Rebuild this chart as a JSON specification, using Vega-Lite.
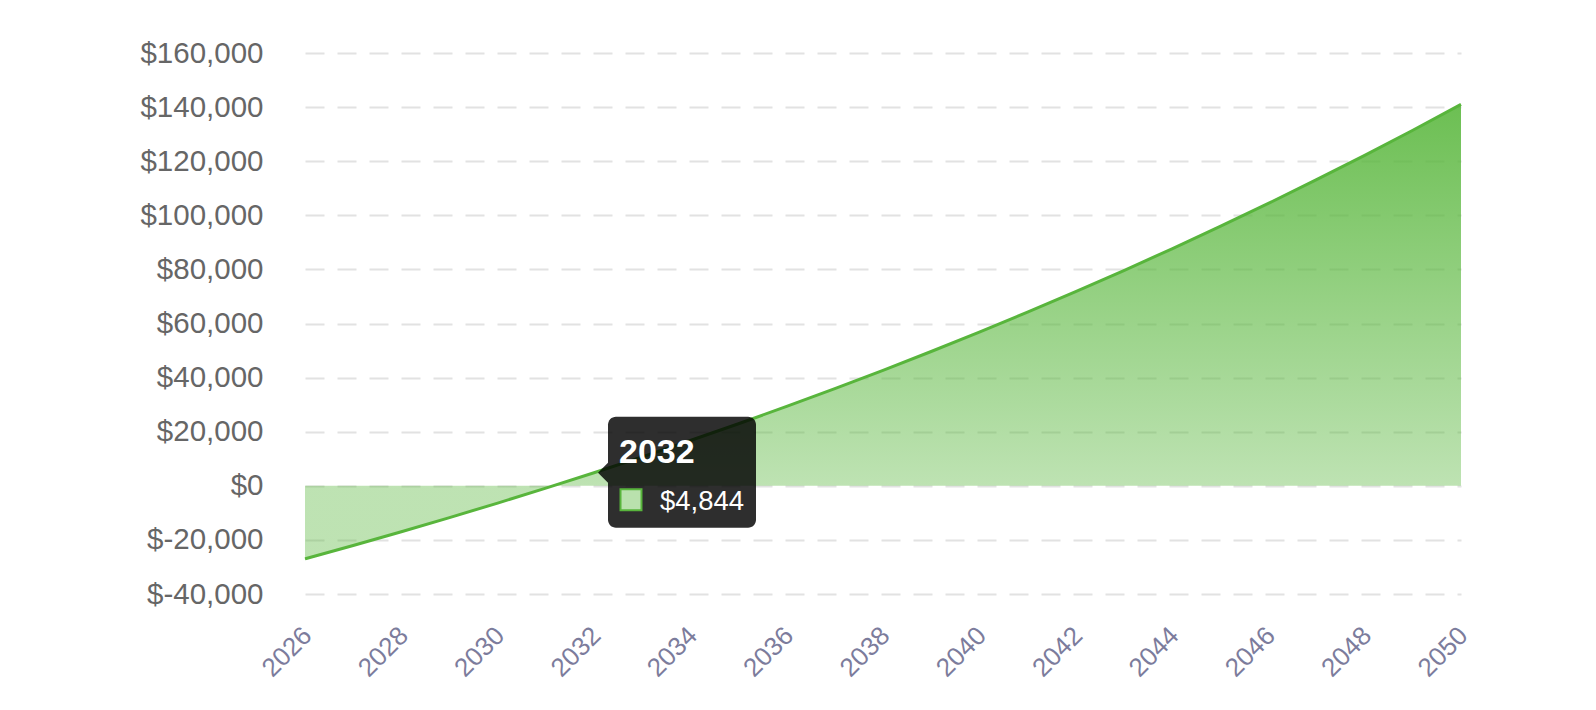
{
  "$schema": "https://vega.github.io/schema/vega-lite/v6.json",
  "width": 1156,
  "height": 541,
  "autosize": {"type": "none"},
  "padding": {"left": 305, "top": 53, "right": 135, "bottom": 116},
  "background": "white",
  "data": {
    "values": [
      {"year": 2026, "value": -27000},
      {"year": 2027, "value": -22065},
      {"year": 2028, "value": -16986},
      {"year": 2029, "value": -11759},
      {"year": 2030, "value": -6381},
      {"year": 2031, "value": -845},
      {"year": 2032, "value": 4844},
      {"year": 2033, "value": 10713},
      {"year": 2034, "value": 16746},
      {"year": 2035, "value": 22954},
      {"year": 2036, "value": 29343},
      {"year": 2037, "value": 35918},
      {"year": 2038, "value": 42684},
      {"year": 2039, "value": 49647},
      {"year": 2040, "value": 56813},
      {"year": 2041, "value": 64187},
      {"year": 2042, "value": 71776},
      {"year": 2043, "value": 79585},
      {"year": 2044, "value": 87622},
      {"year": 2045, "value": 95893},
      {"year": 2046, "value": 104404},
      {"year": 2047, "value": 113163},
      {"year": 2048, "value": 122177},
      {"year": 2049, "value": 131454},
      {"year": 2050, "value": 141000}
    ]
  },
  "encoding": {
    "x": {
      "field": "year",
      "type": "quantitative",
      "scale": {"domain": [2026, 2050], "nice": false, "zero": false},
      "axis": {
        "title": null,
        "values": [2026, 2028, 2030, 2032, 2034, 2036, 2038, 2040, 2042, 2044, 2046, 2048, 2050],
        "format": "d",
        "labelAngle": -45,
        "labelAlign": "right",
        "labelBaseline": "top",
        "labelFont": "Liberation Sans",
        "labelFontSize": 26,
        "labelColor": "#7c7c9c",
        "labelPadding": 28,
        "labelOffset": -7,
        "domain": false,
        "ticks": false,
        "grid": false
      }
    },
    "y": {
      "field": "value",
      "type": "quantitative",
      "scale": {"domain": [-40000, 160000], "nice": false},
      "axis": {
        "title": null,
        "values": [-40000, -20000, 0, 20000, 40000, 60000, 80000, 100000, 120000, 140000, 160000],
        "labelExpr": "datum.value < 0 ? '$-' + format(-datum.value, ',') : '$' + format(datum.value, ',')",
        "labelFont": "Liberation Sans",
        "labelFontSize": 29.5,
        "labelColor": "#666666",
        "labelPadding": 42,
        "domain": false,
        "ticks": false,
        "grid": true,
        "gridColor": "#e2e2e2",
        "gridWidth": 2,
        "gridDash": [19, 13]
      }
    }
  },
  "layer": [
    {
      "mark": {
        "type": "area",
        "interpolate": "monotone",
        "fill": {
          "gradient": "linear",
          "x1": 0, "y1": 1, "x2": 0, "y2": 0,
          "stops": [
            {"offset": 0, "color": "rgba(92,184,64,0.4)"},
            {"offset": 0.161, "color": "rgba(92,184,64,0.4)"},
            {"offset": 1, "color": "rgba(92,184,64,0.9)"}
          ]
        }
      },
      "encoding": {"y2": {"datum": 0}}
    },
    {
      "mark": {"type": "line", "interpolate": "monotone", "stroke": "#58b53c", "strokeWidth": 3}
    },
    {
      "transform": [{"filter": "datum.year == 2032"}],
      "mark": {
        "type": "rect",
        "fill": "black",
        "fillOpacity": 0.82,
        "cornerRadius": 8,
        "xOffset": 14,
        "x2Offset": 162,
        "yOffset": -56,
        "y2Offset": 55
      },
      "encoding": {
        "x2": {"field": "year"},
        "y2": {"field": "value"}
      }
    },
    {
      "transform": [{"filter": "datum.year == 2032"}],
      "mark": {
        "type": "point",
        "shape": "M-0.5,0L0.5,-1L0.5,1Z",
        "size": 400,
        "filled": true,
        "fill": "black",
        "fillOpacity": 0.82,
        "strokeWidth": 0,
        "xOffset": 9
      }
    },
    {
      "transform": [{"filter": "datum.year == 2032"}],
      "mark": {
        "type": "point",
        "shape": "square",
        "size": 440,
        "filled": true,
        "fill": "#b9e1ad",
        "fillOpacity": 1,
        "stroke": "#58b53c",
        "strokeWidth": 2,
        "xOffset": 37,
        "yOffset": 27
      }
    },
    {
      "transform": [{"filter": "datum.year == 2032"}],
      "mark": {
        "type": "text",
        "align": "left",
        "baseline": "alphabetic",
        "font": "Liberation Sans",
        "fontWeight": "bold",
        "fontSize": 34,
        "color": "white",
        "dx": 25,
        "dy": -10
      },
      "encoding": {"text": {"field": "year", "type": "quantitative", "format": "d"}}
    },
    {
      "transform": [{"filter": "datum.year == 2032"}],
      "mark": {
        "type": "text",
        "align": "left",
        "baseline": "alphabetic",
        "font": "Liberation Sans",
        "fontSize": 27.5,
        "color": "white",
        "dx": 66,
        "dy": 37
      },
      "encoding": {"text": {"field": "value", "type": "quantitative", "format": "$,"}}
    }
  ],
  "config": {
    "view": {"stroke": null}
  }
}
